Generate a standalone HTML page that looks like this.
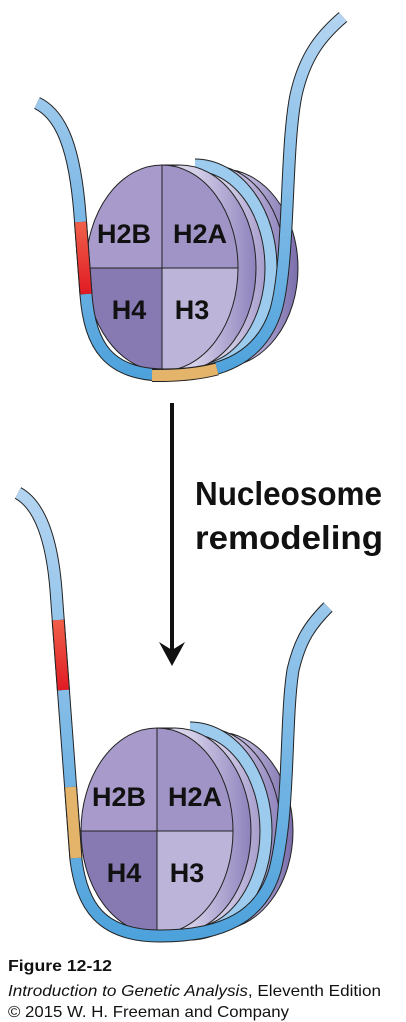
<!DOCTYPE html>
<html><head><meta charset="utf-8"><style>
html,body{margin:0;padding:0;background:#fff;}
svg{display:block;}
</style></head><body>
<svg id="fig" width="406" height="1022" viewBox="0 0 406 1022" xmlns="http://www.w3.org/2000/svg">
<defs>
<linearGradient id="dna" x1="0" y1="0" x2="0" y2="1"><stop offset="0" stop-color="#b3d4f1"/><stop offset="1" stop-color="#4ea2dc"/></linearGradient>
<linearGradient id="rim" x1="0" y1="0" x2="1" y2="0"><stop offset="0" stop-color="#f0eef8"/><stop offset="0.6" stop-color="#d5d0e9"/><stop offset="1" stop-color="#8e82bc"/></linearGradient>
<linearGradient id="back" x1="0" y1="0" x2="1" y2="0"><stop offset="0" stop-color="#e6e2f2"/><stop offset="0.7" stop-color="#b9b1d8"/><stop offset="1" stop-color="#7a6dab"/></linearGradient>
<linearGradient id="red" x1="0" y1="0" x2="0" y2="1"><stop offset="0" stop-color="#f0604a"/><stop offset="1" stop-color="#e01b24"/></linearGradient>
</defs>
<g id="top"></g>
<g id="bot"></g>
<g>
<line x1="172" y1="403" x2="172" y2="650" stroke="#111" stroke-width="4"/>
<path d="M159,642 L172,666 L185,642 L172,650 Z" fill="#111"/>
</g>
<text x="195" y="505" font-family="Liberation Sans, sans-serif" font-weight="bold" font-size="33" fill="#111" textLength="187" lengthAdjust="spacingAndGlyphs">Nucleosome</text>
<text x="195" y="549" font-family="Liberation Sans, sans-serif" font-weight="bold" font-size="33" fill="#111" textLength="188" lengthAdjust="spacingAndGlyphs">remodeling</text>
<text x="8" y="971" font-family="Liberation Sans, sans-serif" font-weight="bold" font-size="16" fill="#111" textLength="104" lengthAdjust="spacingAndGlyphs">Figure 12-12</text>
<text x="8" y="996" font-family="Liberation Sans, sans-serif" font-size="16" fill="#111" textLength="373" lengthAdjust="spacingAndGlyphs"><tspan font-style="italic">Introduction to Genetic Analysis</tspan>, Eleventh Edition</text>
<text x="8" y="1017" font-family="Liberation Sans, sans-serif" font-size="16" fill="#111" textLength="281" lengthAdjust="spacingAndGlyphs">© 2015 W. H. Freeman and Company</text>
</svg>
<script>
function seg(d, color, w){
  return '<path d="'+d+'" fill="none" stroke="#222" stroke-width="'+(w+2)+'" stroke-linecap="butt"/>'+
         '<path d="'+d+'" fill="none" stroke="'+color+'" stroke-width="'+w+'" stroke-linecap="butt"/>';
}
function nuc(cx, cy, strand, red, yellow){
  var rx=76, ry=103, s='';
  s+='<ellipse cx="'+(cx+60)+'" cy="'+cy+'" rx="'+rx+'" ry="'+(ry-4)+'" fill="url(#back)" stroke="#222" stroke-width="1"/>';
  s+='<ellipse cx="'+(cx+48)+'" cy="'+cy+'" rx="'+rx+'" ry="'+ry+'" fill="url(#rim)" stroke="#222" stroke-width="1"/>';
  s+='<path d="M'+(cx+33)+','+(cy-ry)+' A'+rx+','+ry+' 0 0 1 '+(cx+33)+','+(cy+ry)+'" fill="none" stroke="#222" stroke-width="13"/>';
  s+='<path d="M'+(cx+33)+','+(cy-ry)+' A'+rx+','+ry+' 0 0 1 '+(cx+33)+','+(cy+ry)+'" fill="none" stroke="#9ccbee" stroke-width="11"/>';
  s+='<rect x="'+cx+'" y="'+(cy-ry)+'" width="18" height="'+(2*ry)+'" fill="#e2def0"/>';
  s+='<ellipse cx="'+(cx+18)+'" cy="'+cy+'" rx="'+rx+'" ry="'+ry+'" fill="url(#rim)" stroke="#222" stroke-width="1"/>';
  s+='<line x1="'+cx+'" y1="'+(cy-ry)+'" x2="'+(cx+18)+'" y2="'+(cy-ry)+'" stroke="#222"/>';
  s+='<clipPath id="c'+cy+'"><ellipse cx="'+cx+'" cy="'+cy+'" rx="'+rx+'" ry="'+ry+'"/></clipPath>';
  s+='<g clip-path="url(#c'+cy+')">';
  s+='<rect x="'+(cx-rx)+'" y="'+(cy-ry)+'" width="'+rx+'" height="'+ry+'" fill="#a89bcb"/>';
  s+='<rect x="'+cx+'" y="'+(cy-ry)+'" width="'+rx+'" height="'+ry+'" fill="#9f94c5"/>';
  s+='<rect x="'+(cx-rx)+'" y="'+cy+'" width="'+rx+'" height="'+ry+'" fill="#8779b2"/>';
  s+='<rect x="'+cx+'" y="'+cy+'" width="'+rx+'" height="'+ry+'" fill="#bcb5d9"/>';
  s+='</g>';
  s+='<line x1="'+cx+'" y1="'+(cy-ry)+'" x2="'+cx+'" y2="'+(cy+ry)+'" stroke="#222"/>';
  s+='<line x1="'+(cx-rx)+'" y1="'+cy+'" x2="'+(cx+rx)+'" y2="'+cy+'" stroke="#222"/>';
  s+='<ellipse cx="'+cx+'" cy="'+cy+'" rx="'+rx+'" ry="'+ry+'" fill="none" stroke="#222" stroke-width="1"/>';
  var f='font-family="Liberation Sans, sans-serif" font-weight="bold" font-size="27" fill="#111" text-anchor="middle"';
  s+='<text '+f+' x="'+(cx-38)+'" y="'+(cy-25)+'">H2B</text>';
  s+='<text '+f+' x="'+(cx+38)+'" y="'+(cy-25)+'">H2A</text>';
  s+='<text '+f+' x="'+(cx-33)+'" y="'+(cy+51)+'">H4</text>';
  s+='<text '+f+' x="'+(cx+30)+'" y="'+(cy+51)+'">H3</text>';
  s+='<g>'+seg(strand,'url(#dna)',11)+seg(red,'url(#red)',11)+seg(yellow,'#e3b46a',11)+'</g>';
  return s;
}
document.getElementById('top').innerHTML = nuc(162,268,
 'M37,103 C62,115 75,150 80,215 L86,295 C90,345 108,375 165,375 C225,375 262,355 276,310 C290,260 285,150 296,95 C305,55 322,35 343,17',
 'M80.5,222 L86,294',
 'M152,375.5 C175,375.8 198,374 217,369');
document.getElementById('bot').innerHTML = nuc(157,831,
 'M18,493 C40,505 52,540 56,590 L76,860 C82,905 100,936 160,936 C225,936 262,915 275,870 C290,810 285,720 293,670 C300,640 310,625 328,607',
 'M58.2,620 L63.4,690',
 'M70.6,787 L75.9,858');
</script>
</body></html>
